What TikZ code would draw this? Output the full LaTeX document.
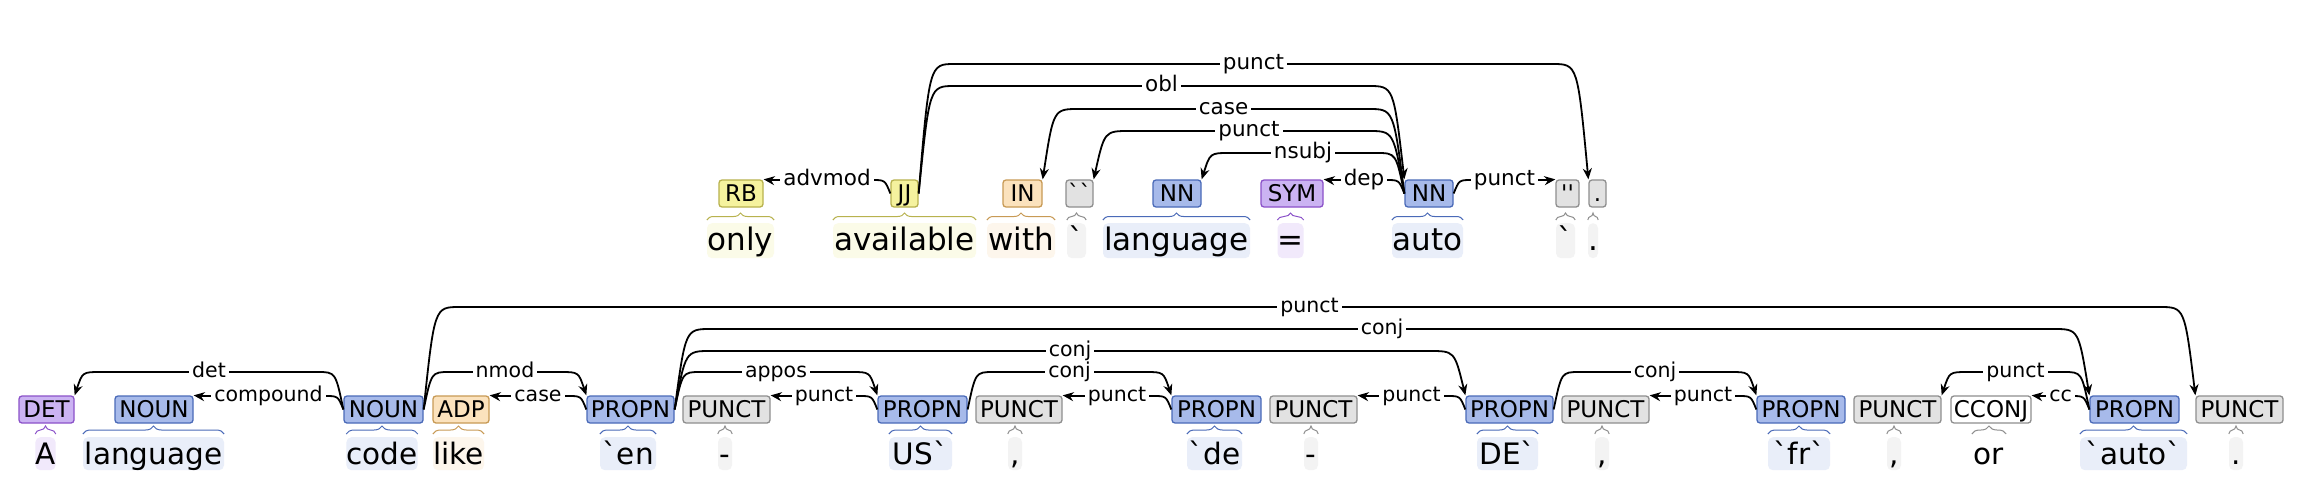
\documentclass[tikz,border=0pt]{standalone}
\usepackage{fontspec}
\newfontfamily\dv{DejaVu Sans}
\usetikzlibrary{arrows.meta,calc,decorations.pathreplacing}
\definecolor{bluefill}{HTML}{A7BAEA}\definecolor{blueline}{HTML}{4A6AB8}\definecolor{bluebg}{HTML}{E9EEF9}
\definecolor{purplefill}{HTML}{CBB3F2}\definecolor{purpleline}{HTML}{8B52C9}\definecolor{purplebg}{HTML}{F1E9FB}
\definecolor{orangefill}{HTML}{FBE2BD}\definecolor{orangeline}{HTML}{C89A55}\definecolor{orangebg}{HTML}{FDF6EC}
\definecolor{grayfill}{HTML}{E2E2E2}\definecolor{grayline}{HTML}{8E8E8E}\definecolor{graybg}{HTML}{F3F3F3}
\definecolor{yellowfill}{HTML}{F5F29E}\definecolor{yellowline}{HTML}{B8B24E}\definecolor{yellowbg}{HTML}{FBFBE8}
\definecolor{whitefill}{HTML}{FFFFFF}\definecolor{whiteline}{HTML}{8E8E8E}\definecolor{whitebg}{HTML}{FFFFFF}
\tikzset{
  tokbox/.style={draw=#1line, fill=#1fill, line width=1.3pt, rounded corners=3pt,
    minimum height=27pt, inner sep=0pt, text height=16.5pt, text depth=0pt,
    font=\dv\fontsize{23}{25}\selectfont, text=black},
  wordbg/.style={fill=#1bg, rounded corners=5pt, anchor=north, inner sep=0pt, text=black, wordfont},
  tokbrace/.style={draw=#1line, line width=1pt, decorate, decoration={brace, amplitude=\bramp}},
  deparc/.style={line width=1.8pt, line join=round, -{Stealth[length=11pt,width=9pt]}},
  arclab/.style={fill=white, inner xsep=3pt, inner ysep=1pt, text height=15pt, text depth=5pt, labfont},
}
\newcommand\tok[8]{%
  \pgfmathsetmacro\bw{#4-#3}\pgfmathsetmacro\bx{(#3+#4)/2}%
  \pgfmathsetmacro\ww{#8-#7}\pgfmathsetmacro\wx{(#7+#8)/2}%
  \node[tokbox=#2, minimum width=\bw pt] (#1) at (\bx,\boxy) {#5};
  \node[wordbg=#2, minimum width=\ww pt] (#1w) at (\wx,\wordy) {#6};
  \draw[tokbrace=#2] ([yshift=3pt]#1w.north west) -- ([yshift=3pt]#1w.north east);
}
% dependent to the right of the head
\newcommand\arcR[5]{%
  \draw[deparc] (#1.east) .. controls ($(#1.east |- 0,#3)+(0.3*#5,0)$) .. ($(#1.east |- 0,#3)+(#5,0)$)
    -- node[arclab]{#4} ($(#2.north west |- 0,#3)+(-#5,0)$)
    .. controls ($(#2.north west |- 0,#3)+(-0.3*#5,0)$) .. (#2.north west);
}
% dependent to the left of the head
\newcommand\arcL[5]{%
  \draw[deparc] (#1.west) .. controls ($(#1.west |- 0,#3)+(-0.3*#5,0)$) .. ($(#1.west |- 0,#3)+(-#5,0)$)
    -- node[arclab]{#4} ($(#2.north east |- 0,#3)+(#5,0)$)
    .. controls ($(#2.north east |- 0,#3)+(0.3*#5,0)$) .. (#2.north east);
}
\begin{document}
\begin{tikzpicture}[x=1pt,y=-1pt]
\useasboundingbox[fill=white] (0,0) rectangle (2304,490);
% ---------------- top sentence ----------------
\begin{scope}[wordfont/.style={font=\dv\fontsize{31}{34}\selectfont, text height=27pt, text depth=8pt},
              labfont/.style={font=\dv\fontsize{21.5}{24}\selectfont}]
\def\boxy{193.5}\def\wordy{223}\def\bramp{7pt}
\tok{t1}{yellow}{719}{763}{RB}{only}{707}{774}
\tok{t2}{yellow}{891}{918}{JJ}{available}{833}{976}
\tok{t3}{orange}{1003}{1042}{IN}{with}{987}{1055}
\tok{t4}{gray}{1066}{1093}{``}{`}{1067}{1086}
\tok{t5}{blue}{1153}{1201}{NN}{language}{1103}{1250}
\tok{t6}{purple}{1261}{1323}{SYM}{=}{1278}{1303}
\tok{t7}{blue}{1405}{1453}{NN}{auto}{1392}{1463}
\tok{t8}{gray}{1556}{1579}{''}{`}{1556}{1575}
\tok{t9}{gray}{1589}{1606}{.}{.}{1588}{1598}
\arcR{t2}{t9}{64}{punct}{36}
\arcR{t2}{t7}{86}{obl}{36}
\arcL{t7}{t3}{109}{case}{36}
\arcL{t7}{t4}{131}{punct}{36}
\arcL{t7}{t5}{153}{nsubj}{28}
\arcL{t7}{t6}{180}{dep}{18}
\arcR{t7}{t8}{180}{punct}{18}
\arcL{t2}{t1}{180}{advmod}{18}
\end{scope}
% ---------------- bottom sentence ----------------
\begin{scope}[wordfont/.style={font=\dv\fontsize{29.5}{32}\selectfont, text height=27pt, text depth=6pt},
              labfont/.style={font=\dv\fontsize{20.5}{23}\selectfont}]
\def\boxy{409.5}\def\wordy{437}\def\bramp{8pt}
\tok{b1}{purple}{19}{74}{DET}{A}{36}{55}
\tok{b2}{blue}{115}{193}{NOUN}{language}{83}{224}
\tok{b3}{blue}{344}{423}{NOUN}{code}{347}{417}
\tok{b4}{orange}{433}{489}{ADP}{like}{433}{484}
\tok{b5}{blue}{587}{674}{PROPN}{`en}{600}{656}
\tok{b6}{gray}{683}{770}{PUNCT}{-}{718}{732}
\tok{b7}{blue}{878}{967}{PROPN}{US`}{889}{952}
\tok{b8}{gray}{976}{1062}{PUNCT}{,}{1008}{1022}
\tok{b9}{blue}{1172}{1261}{PROPN}{`de}{1187}{1242}
\tok{b10}{gray}{1270}{1357}{PUNCT}{-}{1304}{1318}
\tok{b11}{blue}{1466}{1553}{PROPN}{DE`}{1477}{1538}
\tok{b12}{gray}{1562}{1649}{PUNCT}{,}{1595}{1609}
\tok{b13}{blue}{1757}{1845}{PROPN}{`fr`}{1768}{1830}
\tok{b14}{gray}{1854}{1941}{PUNCT}{,}{1887}{1901}
\tok{b15}{white}{1951}{2031}{CCONJ}{or}{1972}{2006}
\tok{b16}{blue}{2090}{2179}{PROPN}{`auto`}{2080}{2187}
\tok{b17}{gray}{2196}{2283}{PUNCT}{.}{2229}{2243}
\arcR{b3}{b17}{307}{punct}{36}
\arcR{b5}{b16}{329}{conj}{36}
\arcR{b5}{b11}{351}{conj}{36}
\arcR{b5}{b7}{372}{appos}{26}
\arcR{b7}{b9}{372}{conj}{26}
\arcR{b11}{b13}{372}{conj}{26}
\arcL{b16}{b14}{372}{punct}{26}
\arcL{b16}{b15}{396}{cc}{18}
\arcL{b3}{b1}{372}{det}{26}
\arcL{b3}{b2}{396}{compound}{18}
\arcR{b3}{b5}{372}{nmod}{26}
\arcL{b5}{b4}{396}{case}{18}
\arcL{b7}{b6}{396}{punct}{18}
\arcL{b9}{b8}{396}{punct}{18}
\arcL{b11}{b10}{396}{punct}{18}
\arcL{b13}{b12}{396}{punct}{18}
\end{scope}
\end{tikzpicture}
\end{document}
